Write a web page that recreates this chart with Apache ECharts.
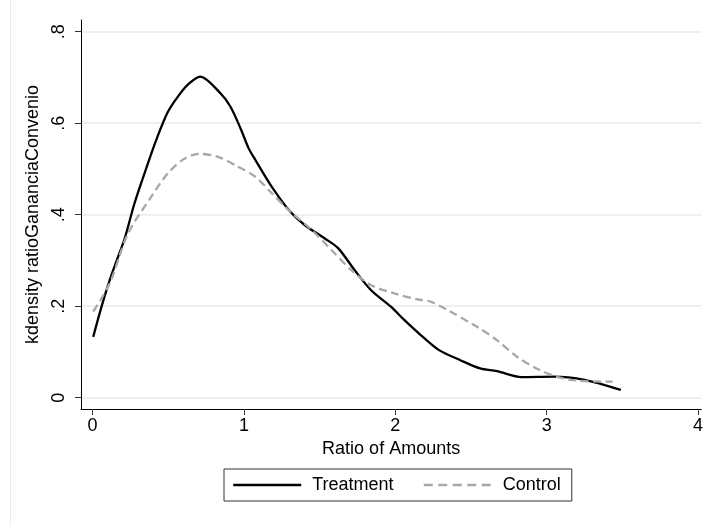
<!DOCTYPE html>
<html><head><meta charset="utf-8">
<script src="https://cdn.jsdelivr.net/npm/echarts@6/dist/echarts.min.js"></script>
<style>html,body{margin:0;padding:0;background:#fff}#c{width:706px;height:526px}</style>
</head><body><div id="c"></div>
<script>
var xTicks = [0, 1, 2, 3, 4];
var yTicks = [0, 0.2, 0.4, 0.6, 0.8];
var yTickLabels = ['0', '.2', '.4', '.6', '.8'];
var treatmentX = [0.004, 0.059, 0.113, 0.168, 0.212, 0.277, 0.354, 0.42, 0.496, 0.572, 0.638, 0.71, 0.846, 0.911, 0.977, 1.031, 1.075, 1.184, 1.305, 1.403, 1.534, 1.622, 1.731, 1.84, 1.971, 2.059, 2.168, 2.289, 2.43, 2.561, 2.671, 2.835, 3.043, 3.25, 3.49];
var treatmentY = [0.133, 0.199, 0.257, 0.308, 0.348, 0.425, 0.501, 0.563, 0.624, 0.662, 0.687, 0.702, 0.665, 0.636, 0.589, 0.545, 0.52, 0.461, 0.407, 0.377, 0.348, 0.327, 0.279, 0.235, 0.199, 0.17, 0.137, 0.104, 0.082, 0.064, 0.058, 0.045, 0.046, 0.039, 0.017];
var controlX = [0.004, 0.113, 0.234, 0.387, 0.496, 0.605, 0.704, 0.824, 0.955, 1.075, 1.184, 1.305, 1.447, 1.578, 1.709, 1.84, 1.993, 2.146, 2.233, 2.343, 2.54, 2.671, 2.802, 2.933, 3.064, 3.217, 3.436];
var controlY = [0.188, 0.25, 0.359, 0.439, 0.49, 0.522, 0.533, 0.527, 0.506, 0.483, 0.447, 0.407, 0.367, 0.323, 0.279, 0.246, 0.228, 0.215, 0.21, 0.192, 0.155, 0.126, 0.09, 0.064, 0.046, 0.037, 0.035];
var seriesNames = ['Treatment', 'Control'];

function pairs(xs, ys) { return xs.map(function (x, i) { return [x, ys[i]]; }); }

var chart = echarts.init(document.getElementById('c'), null, {renderer: 'canvas'});
var font = 'Liberation Sans, Arial, sans-serif';
chart.setOption({
  animation: false,
  backgroundColor: '#fff',
  textStyle: {fontFamily: font},
  grid: {left: 81, right: 0, top: 20, bottom: 117, containLabel: false},
  xAxis: {
    type: 'value', min: -0.0767, max: 4.0216,
    name: 'Ratio of Amounts', nameLocation: 'middle', nameGap: 20,
    nameTextStyle: {fontFamily: font, fontSize: 18, color: '#000'},
    axisLine: {show: true, onZero: false, lineStyle: {color: '#000', width: 1}},
    axisTick: {show: true, length: 6, lineStyle: {color: '#333'}, customValues: xTicks},
    axisLabel: {customValues: xTicks, fontFamily: font, fontSize: 18, color: '#000', margin: 8},
    splitLine: {show: false}
  },
  yAxis: {
    type: 'value', min: -0.0247, max: 0.8256,
    name: 'kdensity ratioGananciaConvenio', nameLocation: 'middle', nameGap: 34, nameRotate: 90,
    nameTextStyle: {fontFamily: font, fontSize: 18, color: '#000'},
    axisLine: {show: true, onZero: false, lineStyle: {color: '#000', width: 1}},
    axisTick: {show: true, length: 6, lineStyle: {color: '#333'}, customValues: yTicks},
    axisLabel: {customValues: yTicks, rotate: 90, fontFamily: font, fontSize: 18, color: '#000', margin: 13,
      formatter: function (v) { var i = yTicks.findIndex(function (t) { return Math.abs(t - v) < 1e-9; }); return i >= 0 ? yTickLabels[i] : ''; }},
    splitLine: {show: true, lineStyle: {color: '#eaeaea', width: 1.5}}
  },
  legend: {
    left: 224, top: 469, orient: 'horizontal',
    data: [
      {name: seriesNames[0], lineStyle: {width: 2.4, color: '#000'}},
      {name: seriesNames[1], lineStyle: {width: 2.4, color: '#a8a8a8', type: [9, 5.5]}}
    ],
    itemWidth: 68, itemHeight: 18, itemGap: 29,
    padding: [7, 11, 7, 8],
    borderColor: '#333', borderWidth: 1,
    itemStyle: {opacity: 0},
    textStyle: {fontFamily: font, fontSize: 18, color: '#000', padding: [0, 0, 0, 6]}
  },
  graphic: [{type: 'line', shape: {x1: 10.5, y1: 0, x2: 10.5, y2: 526}, style: {stroke: '#ececec', lineWidth: 1}, silent: true}],
  series: [
    {name: seriesNames[0], type: 'line', data: pairs(treatmentX, treatmentY), symbol: 'none', smooth: 0.3,
     lineStyle: {color: '#000', width: 2.3}, itemStyle: {color: '#000'}},
    {name: seriesNames[1], type: 'line', data: pairs(controlX, controlY), symbol: 'none', smooth: 0.3,
     lineStyle: {color: '#a8a8a8', width: 2.3, type: [8, 4.5]}, itemStyle: {color: '#a8a8a8'}}
  ]
});
</script></body></html>
